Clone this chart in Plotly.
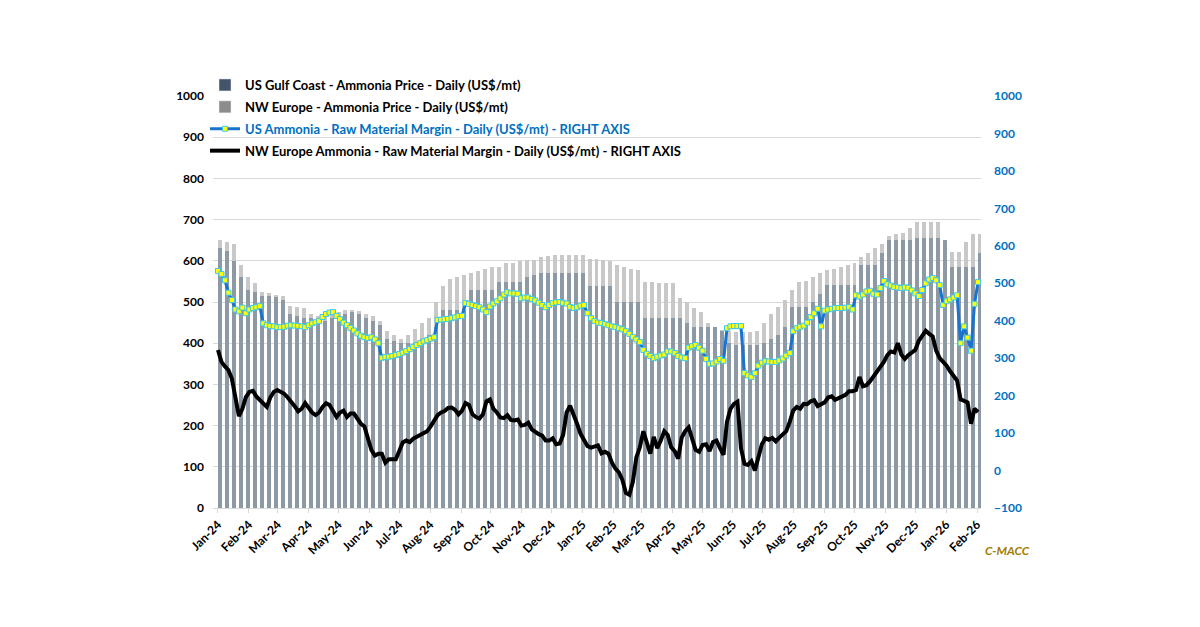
import pandas as pd
import plotly.graph_objects as go

# ---------------- data ----------------
# weekly ammonia prices (US$/mt), first week starting 2024-01-01
week_start = "2024-01-03"
n_weeks = 110
us_gulf_price = [
    630, 625, 600, 560, 530, 525, 515, 515, 512, 505,
    470, 465, 462, 460, 455, 455, 460, 465, 472, 475,
    470, 462, 455, 445, 410, 405, 400, 400, 400, 410,
    420, 440, 480, 480, 480, 480, 530, 530, 530, 530,
    548, 548, 548, 548, 560, 565, 570, 570, 570, 570,
    570, 570, 570, 538, 538, 538, 538, 500, 500, 500,
    500, 460, 460, 460, 460, 460, 460, 450, 440, 440,
    440, 440, 430, 400, 395, 395, 395, 395, 400, 410,
    420, 440, 488, 488, 488, 500, 520, 541, 541, 541,
    541, 541, 590, 590, 590, 620, 650, 650, 650, 650,
    655, 655, 655, 655, 650, 585, 585, 585, 585, 620,
]
nw_europe_price = [
    650, 645, 640, 590, 560, 545, 525, 522, 518, 515,
    490, 488, 485, 470, 465, 465, 470, 475, 480, 480,
    478, 470, 465, 455, 430, 420, 410, 420, 435, 450,
    460, 500, 540, 555, 560, 565, 570, 575, 580, 585,
    585, 595, 595, 600, 602, 602, 610, 612, 614, 614,
    614, 614, 614, 605, 605, 602, 600, 590, 585, 580,
    578, 548, 548, 546, 546, 546, 510, 500, 485, 475,
    448, 440, 432, 430, 428, 428, 428, 430, 450, 470,
    488, 505, 530, 548, 550, 560, 570, 578, 580, 585,
    590, 595, 610, 620, 630, 640, 660, 665, 668, 680,
    694, 694, 694, 694, 650, 621, 621, 645, 665, 665,
]

# raw material margins (US$/mt, right axis), sampled twice a week from 2024-01-01
margin_start = "2024-01-01"
us_margin = [
    533, 525, 508, 475, 455, 430, 425, 435, 420, 430,
    434, 436, 439, 393, 388, 386, 385, 383, 383, 384,
    387, 388, 387, 386, 385, 383, 388, 393, 396, 399,
    410, 418, 422, 423, 413, 404, 395, 388, 381, 374,
    366, 360, 356, 354, 356, 350, 340, 301, 303, 304,
    306, 308, 311, 315, 319, 324, 330, 335, 340, 345,
    348, 352, 356, 402, 403, 404, 405, 407, 409, 412,
    413, 447, 445, 442, 439, 436, 430, 423, 438, 446,
    452, 460, 470, 476, 473, 473, 472, 460, 462, 462,
    458, 454, 448, 442, 436, 442, 447, 449, 450, 448,
    446, 437, 434, 436, 440, 442, 420, 407, 399, 395,
    394, 391, 388, 385, 383, 380, 377, 372, 365, 357,
    350, 343, 322, 312, 306, 300, 304, 307, 310, 318,
    318, 314, 306, 302, 300, 328, 332, 335, 328, 320,
    298, 285, 286, 291, 298, 293, 380, 385, 386, 386,
    386, 260, 254, 250, 260, 280, 288, 292, 291, 290,
    290, 294, 299, 307, 314, 372, 380, 384, 387, 395,
    410, 420, 432, 385, 427, 430, 432, 434, 434, 434,
    435, 436, 430, 468, 465, 470, 478, 480, 472, 470,
    487, 506, 497, 494, 490, 489, 487, 489, 488, 481,
    473, 466, 482, 500, 510, 514, 508, 495, 442, 452,
    457, 462, 468, 340, 385, 355, 320, 445, 503,
]
nwe_margin = [
    322, 290, 278, 268, 245, 190, 145, 165, 196, 210,
    213, 198, 188, 178, 170, 195, 210, 215, 210, 205,
    195, 185, 172, 158, 165, 180, 165, 155, 148, 155,
    170, 180, 175, 156, 143, 155, 160, 143, 152, 152,
    140, 125, 118, 90, 55, 40, 45, 45, 21, 30,
    30, 30, 52, 75, 80, 76, 85, 90, 93, 97,
    105, 118, 135, 148, 155, 159, 167, 168, 162, 150,
    160, 180, 175, 150, 143, 139, 150, 185, 190, 165,
    155, 142, 140, 148, 135, 134, 136, 120, 122, 128,
    110, 102, 97, 93, 80, 80, 86, 70, 72, 95,
    155, 173, 152, 125, 98, 80, 65, 61, 65, 67,
    46, 50, 45, 21, 5, -5, -25, -60, -65, -30,
    35, 62, 105, 70, 45, 90, 60, 80, 105, 95,
    62, 52, 32, 88, 105, 115, 85, 55, 50, 68,
    70, 52, 76, 80, 60, 42, 130, 165, 178, 184,
    60, 18, 15, 25, 0, 35, 70, 86, 82, 87,
    78, 88, 95, 105, 130, 160, 170, 165, 178, 177,
    185, 188, 172, 178, 182, 195, 198, 189, 193, 198,
    202, 212, 212, 215, 250, 225, 228, 238, 250, 263,
    277, 290, 308, 318, 315, 340, 310, 298, 308, 316,
    322, 346, 362, 373, 365, 358, 320, 300, 290, 280,
    265, 254, 240, 190, 186, 182, 125, 165, 156,
]

month_ticks = pd.date_range("2024-01-01", "2026-02-01", freq="MS")
month_labels = [d.strftime("%b-%y") for d in month_ticks]

# -------------- names / styles --------------
name_us_price = "US Gulf Coast - Ammonia Price - Daily (US$/mt)"
name_nwe_price = "NW Europe - Ammonia Price - Daily (US$/mt)"
name_us_margin = ('<span style="color:#0070C0">US Ammonia - Raw Material Margin - '
                  'Daily (US$/mt) - RIGHT AXIS</span>')
name_nwe_margin = "NW Europe Ammonia - Raw Material Margin - Daily (US$/mt) - RIGHT AXIS"

FONT = "Lato"
BLUE = "#0070C0"

week_dates = pd.date_range(week_start, periods=n_weeks, freq="7D")
margin_dates = pd.date_range(margin_start, periods=len(us_margin), freq="84h")
bar_width = 4.0 * 86400000

fig = go.Figure()

# bars (plot colours rendered lighter like the thin daily bars of the original)
fig.add_trace(go.Bar(x=week_dates, y=nw_europe_price, width=bar_width,
                     marker=dict(color="#C8C8C8", line=dict(width=0)),
                     showlegend=False, name=name_nwe_price))
fig.add_trace(go.Bar(x=week_dates, y=us_gulf_price, width=bar_width,
                     marker=dict(color="#8D99A4", line=dict(width=0)),
                     showlegend=False, name=name_us_price))

# legend-only proxies with the series' key colours
fig.add_trace(go.Bar(x=[None], y=[None], marker=dict(color="#44546A"),
                     name=name_us_price, legendrank=1, legendgroup="a"))
fig.add_trace(go.Bar(x=[None], y=[None], marker=dict(color="#8C8C8C"),
                     name=name_nwe_price, legendrank=2, legendgroup="b"))

fig.add_trace(go.Scatter(x=margin_dates, y=nwe_margin, yaxis="y2", mode="lines",
                         line=dict(color="#000000", width=4),
                         name=name_nwe_margin, legendrank=4, legendgroup="d"))
fig.add_trace(go.Scatter(x=margin_dates, y=us_margin, yaxis="y2", mode="lines+markers",
                         line=dict(color="#1874CD", width=3),
                         marker=dict(symbol="square", size=5, color="#FFFF00",
                                     line=dict(color="#3CC8F0", width=1)),
                         name=name_us_margin, legendrank=3, legendgroup="c"))

fig.add_annotation(text="<b><i>C-MACC</i></b>", xref="paper", yref="paper",
                   x=1.034, y=-0.104, xanchor="center", yanchor="middle",
                   showarrow=False,
                   font=dict(family=FONT, size=12, color="#A67C00"))

fig.update_layout(
    width=1200, height=627,
    margin=dict(l=205, r=227, t=88, b=127, autoexpand=False),
    paper_bgcolor="white", plot_bgcolor="white",
    barmode="overlay", bargap=0,
    font=dict(family=FONT, size=12, color="black"),
    legend=dict(xref="container", yref="container",
                x=197 / 1200, y=1 - 62 / 627, xanchor="left", yanchor="top",
                bgcolor="rgba(0,0,0,0)", traceorder="grouped",
                font=dict(family=FONT, size=13, color="black", weight="bold"),
                itemwidth=30, tracegroupgap=2),
    xaxis=dict(type="date", range=["2023-12-27", "2026-02-05"], automargin=False,
               tickvals=month_ticks, ticktext=month_labels, tickangle=-45,
               tickfont=dict(family=FONT, size=12, color="black", weight="bold"),
               showgrid=False, showline=True, linecolor="#D9D9D9", linewidth=1,
               ticks="outside", ticklen=4, tickcolor="#D9D9D9", zeroline=False),
    yaxis=dict(range=[0, 1000], dtick=100, showgrid=True, gridcolor="#D9D9D9",
               gridwidth=1, zeroline=False, automargin=False,
               tickfont=dict(family=FONT, size=12, color="black", weight="bold"),
               ticks="", ticklabelstandoff=8),
    yaxis2=dict(range=[-100, 1000], dtick=100, overlaying="y", side="right",
                showgrid=False, zeroline=False, automargin=False,
                tickfont=dict(family=FONT, size=12, color=BLUE, weight="bold"),
                ticks="", ticklabelstandoff=12),
)

fig.write_html("out.html")
